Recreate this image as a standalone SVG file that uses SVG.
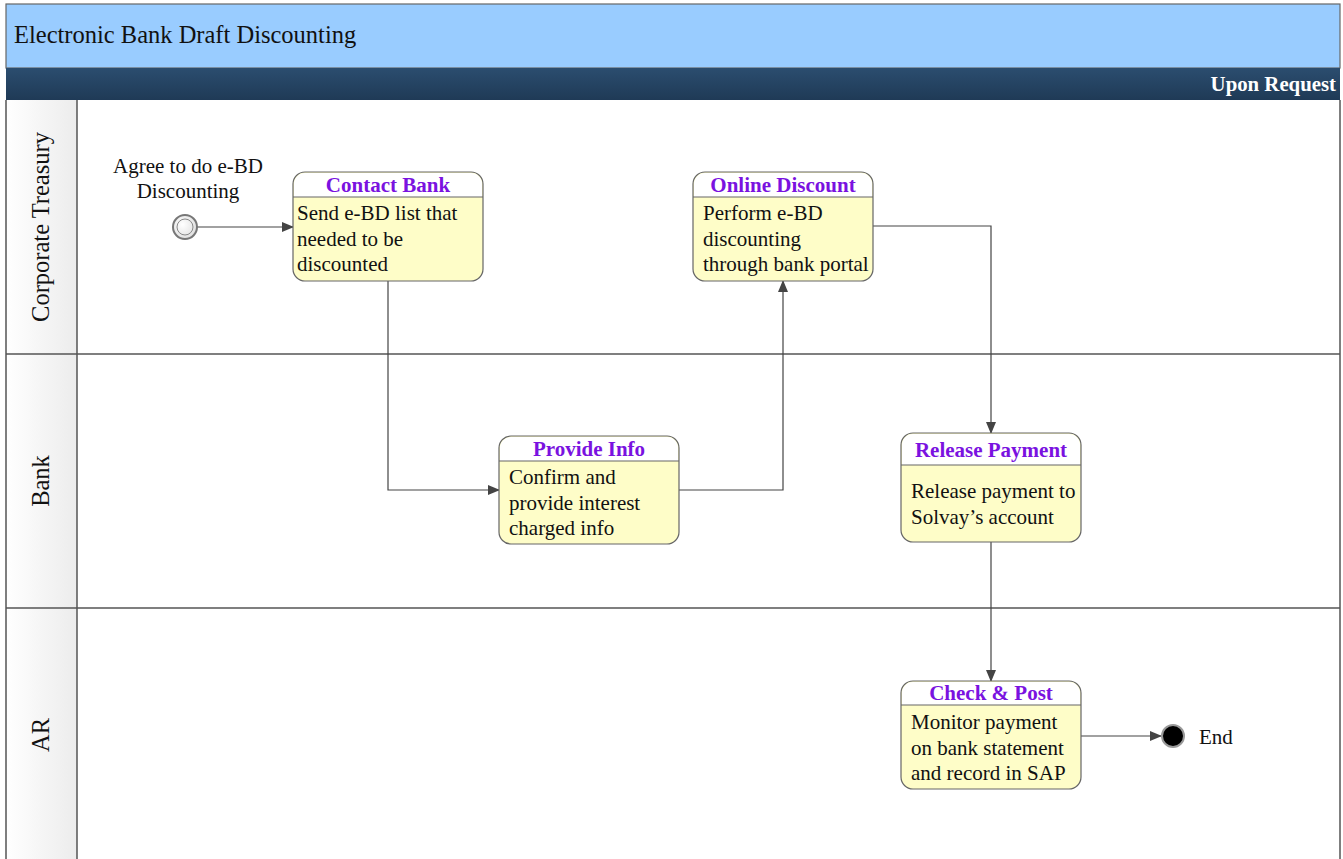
<svg xmlns="http://www.w3.org/2000/svg" width="1343" height="859" viewBox="0 0 1343 859">
<style>
text{font-family:"Liberation Serif","Times New Roman",serif;fill:#111}
.title{font-size:24.5px}
.lane{font-size:24.5px}
.hdr{font-size:21px;font-weight:bold;fill:#7a12e0}
.body{font-size:21px}
.box{fill:#fefdc8;stroke:#666;stroke-width:1.2}
.hbox{fill:#fff}
.div{stroke:#666;stroke-width:1.2}
.conn{fill:none;stroke:#444;stroke-width:1.2}
.sep{stroke:#555;stroke-width:1.5}
</style>
<defs>
<marker id="arr" markerWidth="12" markerHeight="10" refX="11" refY="5" orient="auto" markerUnits="userSpaceOnUse">
<path d="M0,0 L12,5 L0,10 z" fill="#444"/>
</marker>
<linearGradient id="dark" x1="0" y1="0" x2="0" y2="1">
<stop offset="0" stop-color="#2b4d6f"/><stop offset="1" stop-color="#1f3a56"/>
</linearGradient>
<linearGradient id="laneg" x1="0" y1="0" x2="1" y2="0">
<stop offset="0" stop-color="#ffffff"/><stop offset="1" stop-color="#ececec"/>
</linearGradient>
<radialGradient id="startg" cx="0.4" cy="0.4" r="0.7">
<stop offset="0" stop-color="#ffffff"/><stop offset="1" stop-color="#dcdcdc"/>
</radialGradient>
</defs>
<rect x="0" y="0" width="1343" height="859" fill="#fff"/>
<g id="title">
<rect x="6" y="4" width="1334" height="64" fill="#99ccff" stroke="#666" stroke-width="1.2"/>
<text class="title" x="14" y="43">Electronic Bank Draft Discounting</text>
</g>
<g id="phase">
<rect x="6" y="68" width="1334" height="32" fill="url(#dark)"/>
<text x="1336" y="91" text-anchor="end" style="font-size:20.8px;font-weight:bold;fill:#fff">Upon Request</text>
</g>
<g id="lanes">
<rect x="6" y="100" width="71" height="760" fill="url(#laneg)"/>
<line class="sep" x1="6" y1="100" x2="6" y2="859"/>
<line class="sep" x1="77" y1="100" x2="77" y2="859"/>
<line class="sep" x1="1340" y1="100" x2="1340" y2="859"/>
<line class="sep" x1="6" y1="354" x2="1340" y2="354"/>
<line class="sep" x1="6" y1="608" x2="1340" y2="608"/>
<text class="lane" transform="translate(49,227) rotate(-90)" text-anchor="middle">Corporate Treasury</text>
<text class="lane" transform="translate(49,481) rotate(-90)" text-anchor="middle">Bank</text>
<text class="lane" transform="translate(49,735) rotate(-90)" text-anchor="middle">AR</text>
</g>
<g id="connectors">
<path class="conn" d="M197,227 L293,227" marker-end="url(#arr)"/>
<path class="conn" d="M388,281 L388,490 L499,490" marker-end="url(#arr)"/>
<path class="conn" d="M679,490 L783,490 L783,281" marker-end="url(#arr)"/>
<path class="conn" d="M873,226 L991,226 L991,433" marker-end="url(#arr)"/>
<path class="conn" d="M991,542 L991,681" marker-end="url(#arr)"/>
<path class="conn" d="M1081,736 L1161,736" marker-end="url(#arr)"/>
</g>
<g id="start">
<circle cx="185" cy="227" r="12" fill="url(#startg)" stroke="#777" stroke-width="2"/>
<circle cx="185" cy="227" r="8" fill="none" stroke="#888" stroke-width="1"/>
<text class="body" x="188" y="173" text-anchor="middle">Agree to do e-BD</text>
<text class="body" x="188" y="198" text-anchor="middle">Discounting</text>
</g>
<g id="contact-bank">
<rect class="box" x="293" y="172" width="190" height="109" rx="12"/>
<path class="hbox" d="M294,197 L294,184 A11,11 0 0 1 305,173 L471,173 A11,11 0 0 1 482,184 L482,197 z"/>
<line class="div" x1="293" y1="197" x2="483" y2="197"/>
<text class="hdr" x="388" y="192" text-anchor="middle">Contact Bank</text>
<text class="body" x="297" y="220">Send e-BD list that</text>
<text class="body" x="297" y="246">needed to be</text>
<text class="body" x="297" y="271">discounted</text>
</g>
<g id="online-discount">
<rect class="box" x="693" y="172" width="180" height="109" rx="12"/>
<path class="hbox" d="M694,197 L694,184 A11,11 0 0 1 705,173 L861,173 A11,11 0 0 1 872,184 L872,197 z"/>
<line class="div" x1="693" y1="197" x2="873" y2="197"/>
<text class="hdr" x="783" y="192" text-anchor="middle">Online Discount</text>
<text class="body" x="703" y="220">Perform e-BD</text>
<text class="body" x="703" y="246">discounting</text>
<text class="body" x="703" y="271">through bank portal</text>
</g>
<g id="provide-info">
<rect class="box" x="499" y="436" width="180" height="108" rx="12"/>
<path class="hbox" d="M500,461 L500,448 A11,11 0 0 1 511,437 L667,437 A11,11 0 0 1 678,448 L678,461 z"/>
<line class="div" x1="499" y1="461" x2="679" y2="461"/>
<text class="hdr" x="589" y="456" text-anchor="middle">Provide Info</text>
<text class="body" x="509" y="484">Confirm and</text>
<text class="body" x="509" y="510">provide interest</text>
<text class="body" x="509" y="535">charged info</text>
</g>
<g id="release-payment">
<rect class="box" x="901" y="433" width="180" height="109" rx="12"/>
<path class="hbox" d="M902,465 L902,445 A11,11 0 0 1 913,434 L1069,434 A11,11 0 0 1 1080,445 L1080,465 z"/>
<line class="div" x1="901" y1="465" x2="1081" y2="465"/>
<text class="hdr" x="991" y="457" text-anchor="middle">Release Payment</text>
<text class="body" x="911" y="498">Release payment to</text>
<text class="body" x="911" y="524">Solvay’s account</text>
</g>
<g id="check-post">
<rect class="box" x="901" y="681" width="180" height="108" rx="12"/>
<path class="hbox" d="M902,705 L902,693 A11,11 0 0 1 913,682 L1069,682 A11,11 0 0 1 1080,693 L1080,705 z"/>
<line class="div" x1="901" y1="705" x2="1081" y2="705"/>
<text class="hdr" x="991" y="700" text-anchor="middle">Check &amp; Post</text>
<text class="body" x="911" y="729">Monitor payment</text>
<text class="body" x="911" y="755">on bank statement</text>
<text class="body" x="911" y="780">and record in SAP</text>
</g>
<g id="end">
<circle cx="1173" cy="736" r="11" fill="#000" stroke="#999" stroke-width="2"/>
<text class="body" x="1199" y="744">End</text>
</g>
</svg>
